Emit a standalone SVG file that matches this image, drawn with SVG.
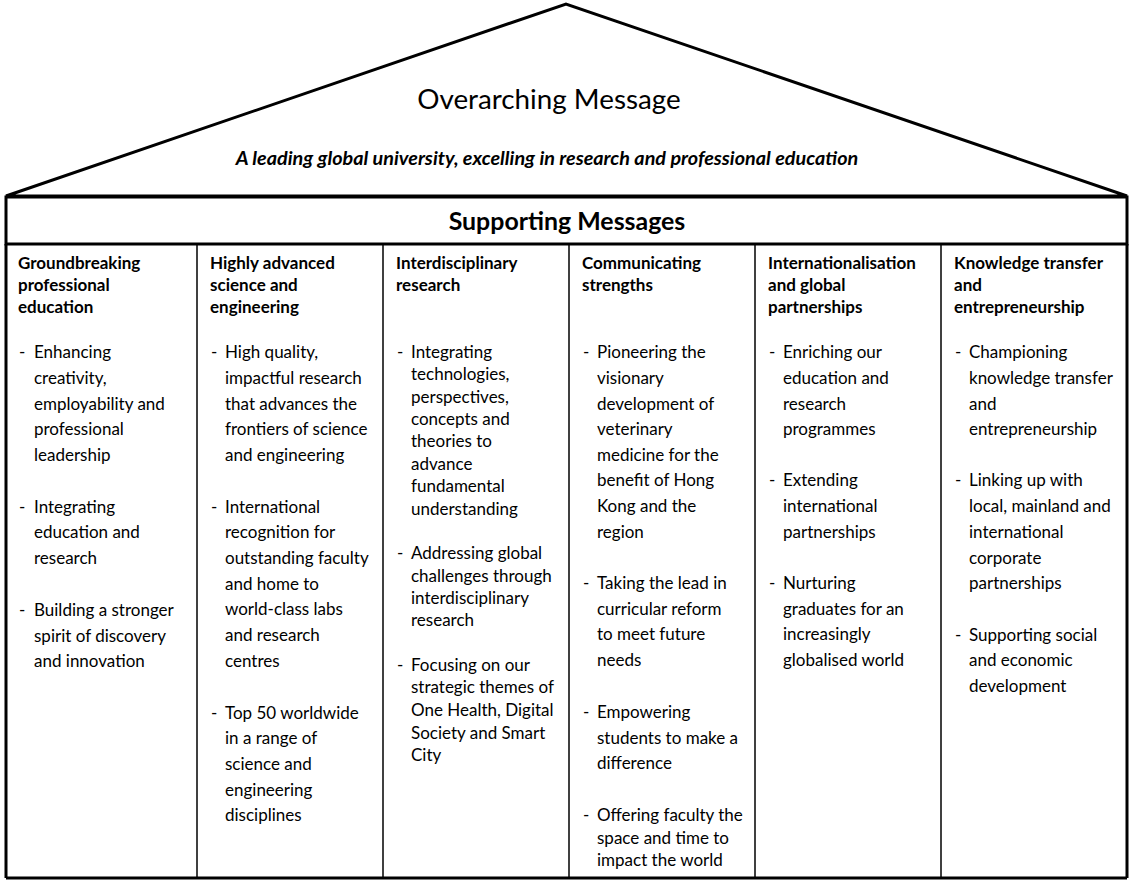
<svg xmlns="http://www.w3.org/2000/svg" width="1141" height="881" viewBox="0 0 1141 881">
<style>
text{font-family:Lato,"Open Sans","Liberation Sans",sans-serif;fill:#000}
.h{font-weight:bold;font-size:17px}
.b{font-size:17px}
.thick{fill:none;stroke:#000;stroke-width:3}
.thin{fill:none;stroke:#000;stroke-width:1.5}
</style>
<rect width="1141" height="881" fill="#fff"/>
<g id="roof">
<polygon class="thick" points="6,196 566,4 1127,196"/>
<text x="549" y="109" text-anchor="middle" font-size="27.8">Overarching Message</text>
<text x="547" y="165" text-anchor="middle" font-size="19.8" font-weight="bold" font-style="italic">A leading global university, excelling in research and professional education</text>
</g>
<g id="header">
<rect class="thick" x="6" y="197" width="1121" height="47"/>
<text x="567" y="230" text-anchor="middle" font-size="24.9" font-weight="bold">Supporting Messages</text>
</g>
<g id="grid">
<line class="thick" x1="6" y1="244" x2="6" y2="878"/>
<line class="thick" x1="1127" y1="244" x2="1127" y2="878"/>
<line class="thick" x1="6" y1="878" x2="1127" y2="878"/>
<line class="thin" x1="197" y1="244" x2="197" y2="878"/>
<line class="thin" x1="383" y1="244" x2="383" y2="878"/>
<line class="thin" x1="569" y1="244" x2="569" y2="878"/>
<line class="thin" x1="755" y1="244" x2="755" y2="878"/>
<line class="thin" x1="941" y1="244" x2="941" y2="878"/>
</g>
<g id="col1">
<text class="h" x="18" y="269">Groundbreaking</text>
<text class="h" x="18" y="291">professional</text>
<text class="h" x="18" y="313">education</text>
<text class="b" x="19" y="358">-</text>
<text class="b" x="34" y="358">Enhancing</text>
<text class="b" x="34" y="384">creativity,</text>
<text class="b" x="34" y="410">employability and</text>
<text class="b" x="34" y="435">professional</text>
<text class="b" x="34" y="461">leadership</text>
<text class="b" x="19" y="513">-</text>
<text class="b" x="34" y="513">Integrating</text>
<text class="b" x="34" y="538">education and</text>
<text class="b" x="34" y="564">research</text>
<text class="b" x="19" y="616">-</text>
<text class="b" x="34" y="616">Building a stronger</text>
<text class="b" x="34" y="642">spirit of discovery</text>
<text class="b" x="34" y="667">and innovation</text>
</g>
<g id="col2">
<text class="h" x="210" y="269">Highly advanced</text>
<text class="h" x="210" y="291">science and</text>
<text class="h" x="210" y="313">engineering</text>
<text class="b" x="211" y="358">-</text>
<text class="b" x="225" y="358">High quality,</text>
<text class="b" x="225" y="384">impactful research</text>
<text class="b" x="225" y="410">that advances the</text>
<text class="b" x="225" y="435">frontiers of science</text>
<text class="b" x="225" y="461">and engineering</text>
<text class="b" x="211" y="513">-</text>
<text class="b" x="225" y="513">International</text>
<text class="b" x="225" y="538">recognition for</text>
<text class="b" x="225" y="564">outstanding faculty</text>
<text class="b" x="225" y="590">and home to</text>
<text class="b" x="225" y="615">world-class labs</text>
<text class="b" x="225" y="641">and research</text>
<text class="b" x="225" y="667">centres</text>
<text class="b" x="211" y="719">-</text>
<text class="b" x="225" y="719">Top 50 worldwide</text>
<text class="b" x="225" y="744">in a range of</text>
<text class="b" x="225" y="770">science and</text>
<text class="b" x="225" y="796">engineering</text>
<text class="b" x="225" y="821">disciplines</text>
</g>
<g id="col3">
<text class="h" x="396" y="269">Interdisciplinary</text>
<text class="h" x="396" y="291">research</text>
<text class="b" x="397" y="358">-</text>
<text class="b" x="411" y="358">Integrating</text>
<text class="b" x="411" y="380">technologies,</text>
<text class="b" x="411" y="403">perspectives,</text>
<text class="b" x="411" y="425">concepts and</text>
<text class="b" x="411" y="447">theories to</text>
<text class="b" x="411" y="470">advance</text>
<text class="b" x="411" y="492">fundamental</text>
<text class="b" x="411" y="515">understanding</text>
<text class="b" x="397" y="559">-</text>
<text class="b" x="411" y="559">Addressing global</text>
<text class="b" x="411" y="582">challenges through</text>
<text class="b" x="411" y="604">interdisciplinary</text>
<text class="b" x="411" y="626">research</text>
<text class="b" x="397" y="671">-</text>
<text class="b" x="411" y="671">Focusing on our</text>
<text class="b" x="411" y="693">strategic themes of</text>
<text class="b" x="411" y="716">One Health, Digital</text>
<text class="b" x="411" y="739">Society and Smart</text>
<text class="b" x="411" y="761">City</text>
</g>
<g id="col4">
<text class="h" x="582" y="269">Communicating</text>
<text class="h" x="582" y="291">strengths</text>
<text class="b" x="583" y="358">-</text>
<text class="b" x="597" y="358">Pioneering the</text>
<text class="b" x="597" y="384">visionary</text>
<text class="b" x="597" y="410">development of</text>
<text class="b" x="597" y="435">veterinary</text>
<text class="b" x="597" y="461">medicine for the</text>
<text class="b" x="597" y="486">benefit of Hong</text>
<text class="b" x="597" y="512">Kong and the</text>
<text class="b" x="597" y="538">region</text>
<text class="b" x="583" y="589">-</text>
<text class="b" x="597" y="589">Taking the lead in</text>
<text class="b" x="597" y="615">curricular reform</text>
<text class="b" x="597" y="640">to meet future</text>
<text class="b" x="597" y="666">needs</text>
<text class="b" x="583" y="718">-</text>
<text class="b" x="597" y="718">Empowering</text>
<text class="b" x="597" y="744">students to make a</text>
<text class="b" x="597" y="769">difference</text>
<text class="b" x="583" y="821">-</text>
<text class="b" x="597" y="821">Offering faculty the</text>
<text class="b" x="597" y="844">space and time to</text>
<text class="b" x="597" y="866">impact the world</text>
</g>
<g id="col5">
<text class="h" x="768" y="269">Internationalisation</text>
<text class="h" x="768" y="291">and global</text>
<text class="h" x="768" y="313">partnerships</text>
<text class="b" x="769" y="358">-</text>
<text class="b" x="783" y="358">Enriching our</text>
<text class="b" x="783" y="384">education and</text>
<text class="b" x="783" y="410">research</text>
<text class="b" x="783" y="435">programmes</text>
<text class="b" x="769" y="486">-</text>
<text class="b" x="783" y="486">Extending</text>
<text class="b" x="783" y="512">international</text>
<text class="b" x="783" y="538">partnerships</text>
<text class="b" x="769" y="589">-</text>
<text class="b" x="783" y="589">Nurturing</text>
<text class="b" x="783" y="615">graduates for an</text>
<text class="b" x="783" y="640">increasingly</text>
<text class="b" x="783" y="666">globalised world</text>
</g>
<g id="col6">
<text class="h" x="954" y="269">Knowledge transfer</text>
<text class="h" x="954" y="291">and</text>
<text class="h" x="954" y="313">entrepreneurship</text>
<text class="b" x="955" y="358">-</text>
<text class="b" x="969" y="358">Championing</text>
<text class="b" x="969" y="384">knowledge transfer</text>
<text class="b" x="969" y="410">and</text>
<text class="b" x="969" y="435">entrepreneurship</text>
<text class="b" x="955" y="486">-</text>
<text class="b" x="969" y="486">Linking up with</text>
<text class="b" x="969" y="512">local, mainland and</text>
<text class="b" x="969" y="538">international</text>
<text class="b" x="969" y="564">corporate</text>
<text class="b" x="969" y="589">partnerships</text>
<text class="b" x="955" y="641">-</text>
<text class="b" x="969" y="641">Supporting social</text>
<text class="b" x="969" y="666">and economic</text>
<text class="b" x="969" y="692">development</text>
</g>
</svg>
